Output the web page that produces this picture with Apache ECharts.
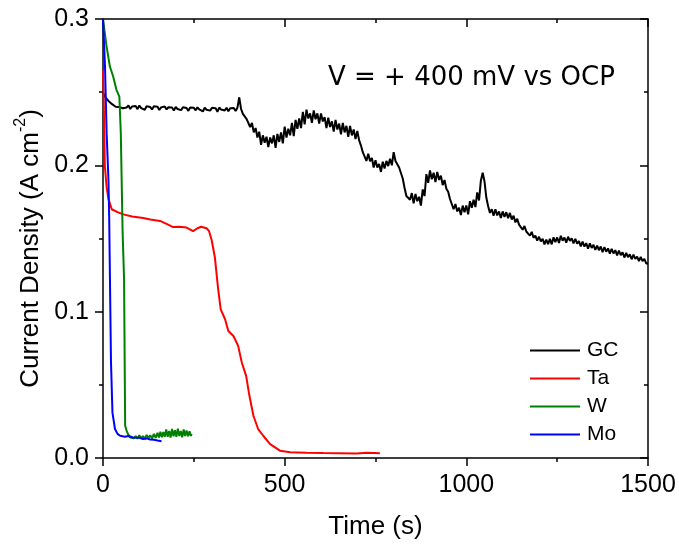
<!DOCTYPE html>
<html>
<head>
<meta charset="utf-8">
<script src="https://cdn.jsdelivr.net/npm/echarts@6/dist/echarts.min.js"></script>
<style>
html,body{margin:0;padding:0;background:#fff;}
#chart{width:679px;height:545px;}
</style>
</head>
<body>
<div id="chart"></div>
<script>
// ---- Data ----
var seriesNames = ['GC', 'Ta', 'W', 'Mo'];
var xTicks = [0, 500, 1000, 1500];
var yTicks = [0.0, 0.1, 0.2, 0.3];
var annotationText = 'V = + 400 mV vs OCP';

var gcTime = [
0,5,10,15,20,25,30,35,40,45,50,55,60,65,70,75,80,85,90,95,
100,105,110,115,120,125,130,135,140,145,150,155,160,165,170,175,180,185,190,195,
200,205,210,215,220,225,230,235,240,245,250,255,260,265,270,275,280,285,290,295,
300,305,310,315,320,325,330,335,340,345,350,355,360,365,370,375,380,385,390,395,
400,405,410,415,420,425,430,435,440,445,450,455,460,465,470,475,480,485,490,495,
500,505,510,515,520,525,530,535,540,545,550,555,560,565,570,575,580,585,590,595,
600,605,610,615,620,625,630,635,640,645,650,655,660,665,670,675,680,685,690,695,
700,705,710,715,720,725,730,735,740,745,750,755,760,765,770,775,780,785,790,795,
800,805,810,815,820,825,830,835,840,845,850,855,860,865,870,875,880,885,890,895,
900,905,910,915,920,925,930,935,940,945,950,955,960,965,970,975,980,985,990,995,
1000,1005,1010,1015,1020,1025,1030,1035,1040,1045,1050,1055,1060,1065,1070,1075,1080,1085,1090,1095,
1100,1105,1110,1115,1120,1125,1130,1135,1140,1145,1150,1155,1160,1165,1170,1175,1180,1185,1190,1195,
1200,1205,1210,1215,1220,1225,1230,1235,1240,1245,1250,1255,1260,1265,1270,1275,1280,1285,1290,1295,
1300,1305,1310,1315,1320,1325,1330,1335,1340,1345,1350,1355,1360,1365,1370,1375,1380,1385,1390,1395,
1400,1405,1410,1415,1420,1425,1430,1435,1440,1445,1450,1455,1460,1465,1470,1475,1480,1485,1490,1495,
1500];
var gcCurrent = [
.2495,.2470,.2458,.2440,.2432,.2418,.2412,.2400,.2410,.2398,.2407,.2390,.2403,.2395,.2410,.2385,.2402,.2392,.2406,.2384,
.2409,.2391,.2400,.2380,.2404,.2393,.2398,.2382,.2403,.2390,.2400,.2378,.2396,.2389,.2402,.2382,.2397,.2388,.2395,.2374,
.2399,.2385,.2394,.2377,.2397,.2386,.2392,.2372,.2395,.2384,.2393,.2376,.2396,.2382,.2390,.2368,.2394,.2380,.2391,.2374,
.2393,.2380,.2390,.2366,.2395,.2381,.2389,.2375,.2393,.2370,.2390,.2378,.2392,.2372,.2394,.2465,.2385,.2352,.2345,.2318,
.2310,.2262,.2290,.2225,.2255,.2190,.2230,.2140,.2205,.2155,.2195,.2125,.2190,.2150,.2205,.2120,.2215,.2160,.2225,.2150,
.2265,.2190,.2250,.2205,.2290,.2200,.2310,.2250,.2320,.2255,.2365,.2280,.2380,.2320,.2355,.2290,.2375,.2315,.2355,.2285,
.2355,.2300,.2330,.2255,.2325,.2262,.2300,.2230,.2310,.2245,.2285,.2212,.2290,.2225,.2270,.2195,.2270,.2205,.2245,.2180,
.2235,.2170,.2135,.2090,.2095,.2030,.2080,.2028,.2050,.1985,.2035,.1985,.2010,.1955,.2025,.1978,.2030,.1995,.2045,.2000,
.2090,.2030,.2025,.1985,.1985,.1910,.1845,.1790,.1800,.1765,.1810,.1740,.1805,.1755,.1785,.1725,.1835,.1790,.1940,.1880,
.1965,.1905,.1950,.1885,.1955,.1900,.1930,.1865,.1900,.1840,.1820,.1770,.1765,.1700,.1735,.1685,.1710,.1660,.1725,.1680,
.1725,.1665,.1755,.1710,.1765,.1715,.1815,.1760,.1895,.1950,.1890,.1780,.1720,.1675,.1700,.1655,.1700,.1658,.1685,.1640,
.1685,.1648,.1680,.1638,.1675,.1630,.1655,.1610,.1635,.1595,.1600,.1560,.1585,.1548,.1560,.1520,.1545,.1505,.1520,.1485,
.1512,.1480,.1498,.1460,.1493,.1462,.1497,.1460,.1508,.1475,.1507,.1470,.1518,.1485,.1507,.1472,.1512,.1484,.1502,.1466,
.1497,.1465,.1482,.1446,.1478,.1445,.1468,.1430,.1467,.1435,.1457,.1422,.1452,.1420,.1445,.1406,.1442,.1410,.1432,.1397,
.1430,.1398,.1420,.1385,.1417,.1386,.1405,.1370,.1402,.1372,.1392,.1358,.1390,.1360,.1377,.1345,.1375,.1345,.1360,.1330,
.1330];

var taTime = [0,2,5,10,15,24,40,56,80,111,130,157,175,193,210,230,248,260,270,285,292,299,308,317,324,336,345,359,372,382,394,403,414,427,441,460,487,515,560,606,650,698,726,745,762];
var taCurrent = [0.265,0.245,0.200,0.185,0.177,0.170,0.168,0.1665,0.165,0.164,0.163,0.162,0.160,0.1578,0.158,0.1575,0.155,0.157,0.158,0.157,0.155,0.149,0.137,0.1152,0.1016,0.0948,0.0868,0.0834,0.0766,0.0653,0.0561,0.0425,0.0289,0.0198,0.0152,0.0095,0.0050,0.0039,0.0036,0.0034,0.0033,0.0030,0.0036,0.0034,0.0032];

var wTime = [0,4,10,19,28,37,45,49,54,58,59,61,65,70,75,80,85,90,95,100,105,110,115,120,125,130,135,140,145,150,154,158,162,166,170,174,178,182,186,190,194,198,202,206,210,214,218,222,226,230,234,238,242,244];
var wCurrent = [0.300,0.292,0.281,0.2675,0.2607,0.2516,0.247,0.222,0.154,0.122,0.088,0.022,0.0186,0.0158,0.0140,0.0152,0.0135,0.0150,0.0132,0.0155,0.0135,0.0150,0.0130,0.0158,0.0136,0.0155,0.0133,0.0165,0.0138,0.0172,0.0140,0.0180,0.0142,0.0178,0.0145,0.0195,0.0145,0.0185,0.0140,0.0198,0.0148,0.0190,0.0145,0.0200,0.0150,0.0185,0.0142,0.0195,0.0150,0.0188,0.0148,0.0182,0.0150,0.0165];

var moTime = [0,3,5.5,10,15,17,19,22,26,33,40,47,60,70,83,100,110,120,130,140,150,161];
var moCurrent = [0.300,0.300,0.2675,0.222,0.190,0.165,0.125,0.0655,0.031,0.0198,0.0165,0.0152,0.0145,0.0150,0.0140,0.0138,0.0130,0.0134,0.0127,0.0125,0.0120,0.0115];

var seriesColors = ['#000000', '#ff0000', '#008000', '#0000ff'];

function pairs(xs, ys) {
  var out = [];
  for (var i = 0; i < xs.length; i++) out.push([xs[i], ys[i]]);
  return out;
}
var seriesData = [pairs(gcTime, gcCurrent), pairs(taTime, taCurrent), pairs(wTime, wCurrent), pairs(moTime, moCurrent)];

var FONT = '"Liberation Sans", Arial, sans-serif';
var chart = echarts.init(document.getElementById('chart'), null, {renderer: 'canvas'});

var axisLineStyle = {color: '#000', width: 1.5};
var tickStyle = {color: '#000', width: 1.5};

var option = {
  animation: false,
  backgroundColor: '#fff',
  grid: {left: 103, right: 31, top: 19, bottom: 86, containLabel: false},
  xAxis: [{
    type: 'value', min: xTicks[0], max: xTicks[xTicks.length - 1], interval: 500,
    position: 'bottom',
    axisLine: {show: true, onZero: false, lineStyle: axisLineStyle},
    axisTick: {show: true, inside: false, length: 8, lineStyle: tickStyle},
    minorTick: {show: true, splitNumber: 2, length: 4, lineStyle: tickStyle},
    splitLine: {show: false},
    axisLabel: {show: true, margin: 15, color: '#000', fontFamily: FONT, fontSize: 25,
      formatter: function (v) { return String(v); }},
    name: 'Time (s)', nameLocation: 'middle', nameGap: 56,
    nameTextStyle: {color: '#000', fontFamily: FONT, fontSize: 26}
  }, {
    type: 'value', min: xTicks[0], max: xTicks[xTicks.length - 1], interval: 500,
    position: 'top',
    axisLine: {show: true, onZero: false, lineStyle: axisLineStyle},
    axisTick: {show: true, inside: true, length: 8, lineStyle: tickStyle},
    minorTick: {show: true, splitNumber: 2, length: 4, lineStyle: tickStyle},
    splitLine: {show: false},
    axisLabel: {show: false}
  }],
  yAxis: [{
    type: 'value', min: yTicks[0], max: yTicks[yTicks.length - 1], interval: 0.1,
    position: 'left',
    axisLine: {show: true, onZero: false, lineStyle: axisLineStyle},
    axisTick: {show: true, inside: false, length: 8, lineStyle: tickStyle},
    minorTick: {show: true, splitNumber: 2, length: 4, lineStyle: tickStyle},
    splitLine: {show: false},
    axisLabel: {show: true, margin: 14, color: '#000', fontFamily: FONT, fontSize: 25,
      formatter: function (v) { return v.toFixed(1); }},
    name: '{a|Current Density (A cm}{s|-2}{a|)}', nameLocation: 'middle', nameGap: 57, nameRotate: 90,
    nameTextStyle: {
      color: '#000', fontFamily: FONT, fontSize: 26, padding: [0, 20, 0, 0],
      rich: {
        a: {color: '#000', fontFamily: FONT, fontSize: 26, lineHeight: 31, verticalAlign: 'bottom'},
        s: {color: '#000', fontFamily: FONT, fontSize: 16, lineHeight: 31, verticalAlign: 'top', padding: [0, 0, 12, 0]}
      }
    }
  }, {
    type: 'value', min: yTicks[0], max: yTicks[yTicks.length - 1], interval: 0.1,
    position: 'right',
    axisLine: {show: true, onZero: false, lineStyle: axisLineStyle},
    axisTick: {show: true, inside: true, length: 8, lineStyle: tickStyle},
    minorTick: {show: true, splitNumber: 2, length: 4, lineStyle: tickStyle},
    splitLine: {show: false},
    axisLabel: {show: false}
  }],
  legend: {
    show: true, orient: 'vertical', left: 525, top: 335,
    itemWidth: 50, itemHeight: 2, itemGap: 7, icon: 'rect',
    textStyle: {color: '#000', fontFamily: FONT, fontSize: 21, padding: [0, 0, 0, 2]},
    data: seriesNames
  },
  graphic: [{
    type: 'text', left: 328, top: 65,
    style: {text: annotationText, fill: '#000', font: '26px "DejaVu Sans", sans-serif'}
  }],
  series: seriesNames.map(function (name, i) {
    return {
      name: name, type: 'line', data: seriesData[i],
      xAxisIndex: 0, yAxisIndex: 0,
      showSymbol: false, symbol: 'none', smooth: false,
      clip: true,
      lineStyle: {color: seriesColors[i], width: i === 0 ? 2 : 2},
      itemStyle: {color: seriesColors[i]},
      z: 2 + i
    };
  })
};
chart.setOption(option);
</script>
</body>
</html>
